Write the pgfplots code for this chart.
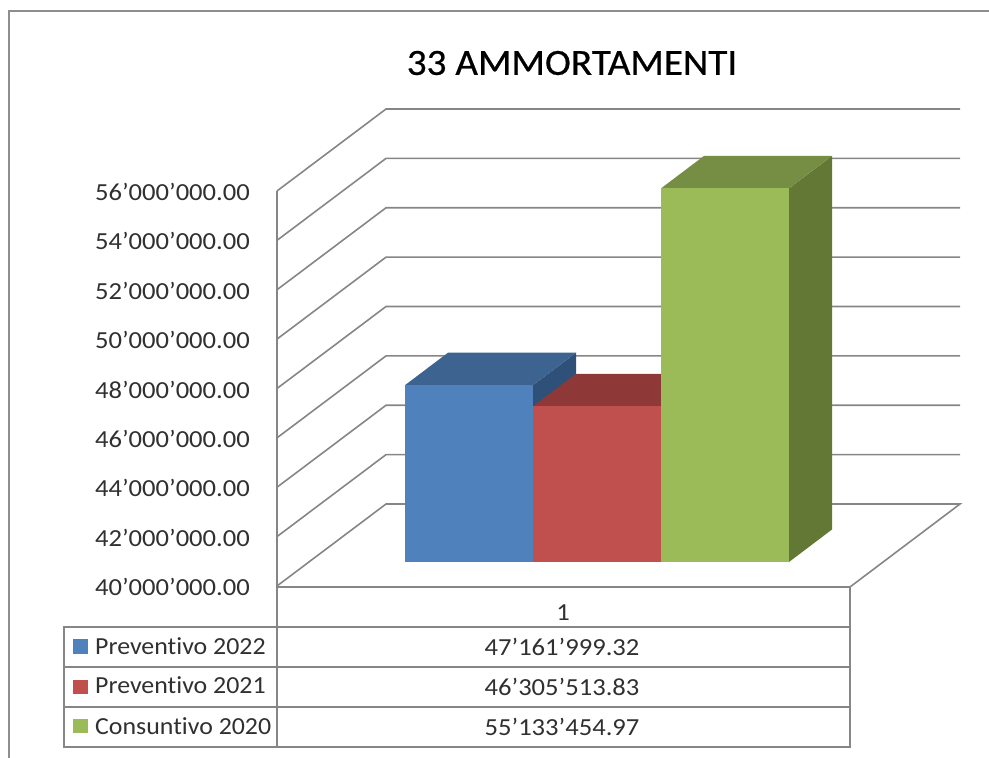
\documentclass[border=0pt]{standalone}
\usepackage{pgfplots}
\pgfplotsset{compat=1.18}
\usepackage{fontspec}
\setmainfont[Ligatures=NoCommon]{Carlito}
\newfontfamily\numf[FakeStretch=1.085,Ligatures=NoCommon]{Carlito}
\newfontfamily\legf[FakeStretch=1.056,Ligatures=NoCommon]{Carlito}
\newfontfamily\titf[FakeStretch=1.058,FakeBold=0.6,Ligatures=NoCommon]{Carlito}
\definecolor{gridc}{HTML}{868686}
\definecolor{borderc}{HTML}{8E8E8E}
\definecolor{txt}{HTML}{303030}
\definecolor{bluef}{HTML}{4F81BD}
\definecolor{bluet}{HTML}{3D6391}
\definecolor{blues}{HTML}{2F5078}
\definecolor{redf}{HTML}{C0504D}
\definecolor{redt}{HTML}{8E3938}
\definecolor{greenf}{HTML}{9BBB59}
\definecolor{greent}{HTML}{768E43}
\definecolor{greens}{HTML}{647835}
\begin{document}
\begin{tikzpicture}
\useasboundingbox (0,0) rectangle (989pt,758pt);
% --- page frame, data table, title (coordinates in pixels of the page)
\begin{axis}[
  at={(0pt,0pt)}, anchor=south west, scale only axis,
  width=989pt, height=758pt,
  xmin=0, xmax=989, ymin=0, ymax=758, y dir=reverse,
  hide axis, clip=false,
]
\addplot[borderc, line width=2pt] coordinates {(9,758) (9,11) (989,11)};
% table
\addplot[gridc, line width=1.8pt] coordinates {(277,191) (277,747)};
\addplot[gridc, line width=1.8pt] coordinates {(850,587) (850,747) (64,747) (64,627) (850,627)};
\addplot[gridc, line width=1.8pt] coordinates {(64,667) (850,667)};
\addplot[gridc, line width=1.8pt] coordinates {(64,707) (850,707)};
% legend keys
\addplot[fill=bluef, draw=none] coordinates {(73,639) (88,639) (88,654) (73,654)} -- cycle;
\addplot[fill=redf, draw=none] coordinates {(73,680) (88,680) (88,694) (73,694)} -- cycle;
\addplot[fill=greenf, draw=none] coordinates {(73,719) (88,719) (88,733) (73,733)} -- cycle;
\node[font=\titf\fontsize{37}{37}\selectfont, text=black, inner sep=0pt] at (axis cs:572,63) {33 AMMORTAMENTI};
\node[font=\numf\fontsize{24.5}{24.5}\selectfont, text=txt, inner sep=0pt] at (axis cs:563,613) {1};
\node[font=\numf\fontsize{24.5}{24.5}\selectfont, text=txt, inner sep=0pt] at (axis cs:562,647) {47’161’999.32};
\node[font=\numf\fontsize{24.5}{24.5}\selectfont, text=txt, inner sep=0pt] at (axis cs:562,687) {46’305’513.83};
\node[font=\numf\fontsize{24.5}{24.5}\selectfont, text=txt, inner sep=0pt] at (axis cs:562,727) {55’133’454.97};
\node[font=\legf\fontsize{24.5}{24.5}\selectfont, text=txt, inner sep=0pt, anchor=west] at (axis cs:95,646) {Preventivo 2022};
\node[font=\legf\fontsize{24.5}{24.5}\selectfont, text=txt, inner sep=0pt, anchor=west] at (axis cs:95,685) {Preventivo 2021};
\node[font=\legf\fontsize{24.5}{24.5}\selectfont, text=txt, inner sep=0pt, anchor=west] at (axis cs:95,726) {Consuntivo 2020};
\end{axis}
% --- value axis with the walls and the floor
\begin{axis}[
  at={(277pt,172pt)}, anchor=south west, scale only axis,
  width=573pt, height=395pt,
  xmin=277, xmax=850, ymin=40000000, ymax=56000000,
  clip=false,
  scaled y ticks=false,
  axis line style={draw=none}, major tick length=0pt,
  xtick=\empty,
  ytick={40000000,42000000,44000000,46000000,48000000,50000000,52000000,54000000,56000000},
  yticklabels={40’000’000.00,42’000’000.00,44’000’000.00,46’000’000.00,48’000’000.00,50’000’000.00,52’000’000.00,54’000’000.00,56’000’000.00},
  yticklabel style={font=\numf\fontsize{24.5}{24.5}\selectfont, text=txt, anchor=east, inner sep=0pt, xshift=-27pt, yshift=-1pt},
]
\addplot[gridc, line width=1.6pt] coordinates {(277,42000000) (386,45320000) (960,45320000)};
\addplot[gridc, line width=1.6pt] coordinates {(277,44000000) (386,47320000) (960,47320000)};
\addplot[gridc, line width=1.6pt] coordinates {(277,46000000) (386,49320000) (960,49320000)};
\addplot[gridc, line width=1.6pt] coordinates {(277,48000000) (386,51320000) (960,51320000)};
\addplot[gridc, line width=1.6pt] coordinates {(277,50000000) (386,53320000) (960,53320000)};
\addplot[gridc, line width=1.6pt] coordinates {(277,52000000) (386,55320000) (960,55320000)};
\addplot[gridc, line width=1.6pt] coordinates {(277,54000000) (386,57320000) (960,57320000)};
\addplot[gridc, line width=1.6pt] coordinates {(277,56000000) (386,59320000) (960,59320000)};
\addplot[gridc, line width=1.6pt] coordinates {(277,40000000) (386,43320000) (960,43320000) (850,39960000) (277,39960000)};
\end{axis}
% --- the three bars: their floor stands 24 px before the back plane
\begin{axis}[
  at={(277pt,196pt)}, anchor=south west, scale only axis,
  width=573pt, height=395pt,
  xmin=277, xmax=850, ymin=40000000, ymax=56000000,
  clip=false, hide axis,
]
% blue side
\addplot[fill=blues, draw=none] coordinates {(533,47161999.32) (576,48478000) (576,41316000) (533,40000000)} -- cycle;
% red
\addplot[fill=redt, draw=none] coordinates {(533,46305513.83) (576,47621000) (704,47621000) (661,46305513.83)} -- cycle;
\addplot[ybar, bar width=128pt, bar shift=0pt, fill=redf, draw=none] coordinates {(597,46305513.83)};
% blue
\addplot[fill=bluet, draw=none] coordinates {(405,47161999.32) (448,48478000) (576,48478000) (533,47161999.32)} -- cycle;
\addplot[ybar, bar width=128pt, bar shift=0pt, fill=bluef, draw=none] coordinates {(469,47161999.32)};
% green
\addplot[fill=greens, draw=none] coordinates {(789,55133454.97) (832,56449000) (832,41316000) (789,40000000)} -- cycle;
\addplot[fill=greent, draw=none] coordinates {(661,55133454.97) (704,56449000) (832,56449000) (789,55133454.97)} -- cycle;
\addplot[ybar, bar width=128pt, bar shift=0pt, fill=greenf, draw=none] coordinates {(725,55133454.97)};
\end{axis}
\end{tikzpicture}
\end{document}
